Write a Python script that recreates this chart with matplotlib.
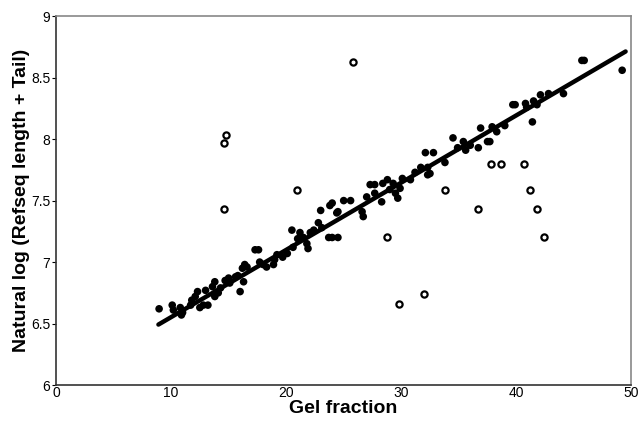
import matplotlib

matplotlib.use("Agg")
import matplotlib.pyplot as plt
import numpy as np

plt.rcParams["font.family"] = ["Liberation Sans", "DejaVu Sans"]

# filled points: gel fraction vs ln(refseq length + tail)
gel_x = [
    8.96, 10.1, 10.2, 10.8, 11.0, 10.9, 11.7, 11.8, 12.1, 12.3, 12.5, 12.8,
    13.0, 13.2, 13.6, 13.8, 13.8, 14.1, 14.3, 14.7, 15.0, 15.1, 15.6, 15.8,
    16.0, 16.2, 16.3, 16.6, 16.4, 17.3, 17.6, 17.7, 18.0, 18.3, 18.9, 19.0,
    19.2, 19.7, 20.1, 20.5, 20.6, 21.0, 21.2, 21.5, 21.8, 21.9, 22.1, 22.4,
    22.8, 23.0, 23.1, 23.7, 23.8, 24.0, 24.4, 24.5, 24.0, 24.5, 25.0, 25.6,
    26.6, 26.7, 27.0, 27.3, 27.7, 27.7, 28.3, 28.4, 28.8, 29.0, 29.3, 29.5,
    29.7, 29.9, 30.1, 30.8, 31.2, 31.7, 32.1, 32.3, 32.3, 32.8, 32.5, 33.8,
    34.5, 34.9, 35.4, 35.6, 36.0, 36.7, 36.9, 37.5, 37.7, 37.9, 38.3, 39.0,
    39.7, 39.9, 40.8, 40.9, 41.4, 41.5, 41.8, 42.1, 42.8, 44.1, 45.7, 45.9,
    49.2,
]
log_len = [
    6.62, 6.65, 6.61, 6.63, 6.59, 6.57, 6.65, 6.69, 6.72, 6.76, 6.63, 6.65,
    6.77, 6.65, 6.80, 6.84, 6.72, 6.75, 6.79, 6.85, 6.87, 6.83, 6.88, 6.89,
    6.76, 6.95, 6.84, 6.96, 6.98, 7.10, 7.10, 7.00, 6.98, 6.96, 6.98, 7.02,
    7.06, 7.04, 7.07, 7.26, 7.12, 7.19, 7.24, 7.20, 7.15, 7.11, 7.24, 7.26,
    7.32, 7.42, 7.28, 7.20, 7.46, 7.20, 7.40, 7.20, 7.48, 7.41, 7.50, 7.50,
    7.41, 7.37, 7.53, 7.63, 7.63, 7.56, 7.49, 7.64, 7.67, 7.59, 7.64, 7.56,
    7.52, 7.60, 7.68, 7.67, 7.73, 7.77, 7.89, 7.77, 7.71, 7.89, 7.72, 7.81,
    8.01, 7.93, 7.98, 7.91, 7.95, 7.93, 8.09, 7.98, 7.98, 8.10, 8.06, 8.11,
    8.28, 8.28, 8.29, 8.26, 8.14, 8.31, 8.28, 8.36, 8.37, 8.37, 8.64, 8.64,
    8.56,
]

# open circles (outliers)
out_x = [14.6, 14.6, 14.8, 20.9, 25.8, 28.8, 29.8, 32.0, 33.8, 36.7,
         37.8, 38.7, 40.7, 41.2, 41.8, 42.4]
out_y = [7.43, 7.97, 8.03, 7.59, 8.63, 7.20, 6.66, 6.74, 7.59, 7.43,
         7.80, 7.80, 7.80, 7.59, 7.43, 7.20]

# regression line
fit_x = [8.9, 49.5]
fit_intercept = 6.005
fit_slope = 0.0547

fig = plt.figure(figsize=(6.4, 4.25), dpi=100)
ax = fig.add_axes([0.0875, 0.094, 0.899, 0.868])

ax.scatter(gel_x, log_len, s=30, color="black", edgecolors="none", zorder=3)
ax.scatter(out_x, out_y, s=20, facecolors="white", edgecolors="black",
           linewidths=1.6, zorder=3)
fx = np.array(fit_x)
ax.plot(fx, fit_intercept + fit_slope * fx, color="black", lw=3.2,
        solid_capstyle="round", zorder=4)

ax.set_xlim(0, 50)
ax.set_ylim(6, 9)
ax.set_xticks([0, 10, 20, 30, 40, 50])
ax.set_yticks([6, 6.5, 7, 7.5, 8, 8.5, 9])
ax.set_yticklabels(["6", "6.5", "7", "7.5", "8", "8.5", "9"])

for side in ["top", "right"]:
    ax.spines[side].set_color("#888888")
    ax.spines[side].set_linewidth(1.2)
for side in ["left", "bottom"]:
    ax.spines[side].set_color("#333333")
    ax.spines[side].set_linewidth(1.2)

ax.tick_params(axis="y", length=3, width=0.8, pad=1, labelsize=10)
ax.tick_params(axis="x", length=0, pad=1, labelsize=10)

ax.set_xlabel("Gel fraction", fontsize=14, fontweight="bold", labelpad=0)
ax.set_ylabel("Natural log (Refseq length + Tail)", fontsize=14,
              fontweight="bold")
ax.yaxis.set_label_coords(-0.045, 0.5)

fig.savefig("out.png", dpi=100)
